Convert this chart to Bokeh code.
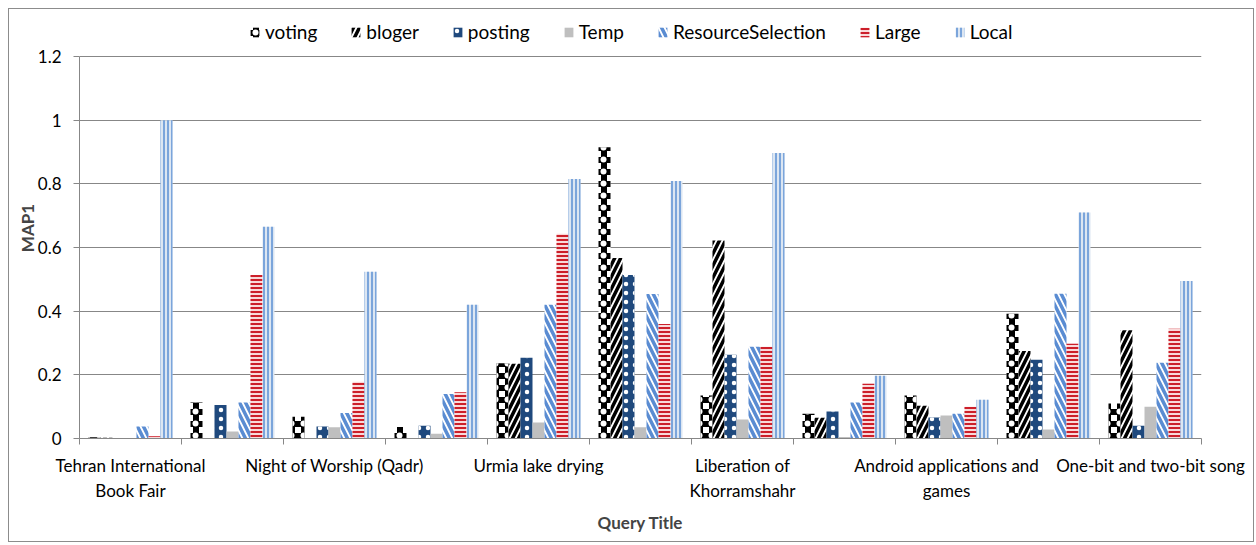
from bokeh.plotting import figure
from bokeh.models import (ColumnDataSource, Range1d, FixedTicker, LinearAxis, Legend, LegendItem,
                          Grid, CustomJSTickFormatter)
from bokeh.transform import dodge
from bokeh.embed import file_html
from bokeh.resources import INLINE

# ---------------- data ----------------
categories = ["Tehran International\nBook Fair", "", "Night of Worship (Qadr)", "",
              "Urmia lake drying", "", "Liberation of\nKhorramshahr", "",
              "Android applications and\ngames", "", "One-bit and two-bit song"]
series_names = ["voting", "bloger", "posting", "Temp", "ResourceSelection", "Large", "Local"]
voting = [0.004, 0.113, 0.068, 0.036, 0.236, 0.915, 0.135, 0.078, 0.135, 0.392, 0.110]
bloger = [0.002, 0.000, 0.000, 0.000, 0.235, 0.567, 0.622, 0.065, 0.103, 0.275, 0.340]
posting = [0.001, 0.105, 0.038, 0.040, 0.254, 0.514, 0.263, 0.085, 0.066, 0.247, 0.040]
temp = [0.000, 0.022, 0.035, 0.015, 0.050, 0.035, 0.060, 0.005, 0.072, 0.028, 0.100]
resource_selection = [0.038, 0.113, 0.080, 0.140, 0.420, 0.454, 0.288, 0.113, 0.078, 0.455, 0.238]
large = [0.007, 0.514, 0.178, 0.145, 0.643, 0.360, 0.288, 0.172, 0.100, 0.298, 0.345]
local = [1.000, 0.665, 0.524, 0.420, 0.815, 0.809, 0.897, 0.197, 0.122, 0.710, 0.495]
y_ticks = [0, 0.2, 0.4, 0.6, 0.8, 1.0, 1.2]
y_tick_labels = ["0", "0.2", "0.4", "0.6", "0.8", "1", "1.2"]
y_title = "MAP1"
x_title = "Query Title"

# ---------------- build ----------------
n = len(categories)
centers = [i + 0.5 for i in range(n)]
bounds = [float(i) for i in range(n + 1)]
src = ColumnDataSource(dict(x=centers, voting=voting, bloger=bloger, posting=posting, temp=temp,
                            rs=resource_selection, large=large, local=local))

FONT = "Lato"
GRAY = "#878787"

# frame spans page y 17..438; value axis 0..1.2 occupies the lower 382 px,
# the strip above holds the legend
FRAME_H = 421
y_top = y_ticks[-1] * FRAME_H / 382

p = figure(width=1246, height=534, output_backend="svg", toolbar_location=None,
           x_range=Range1d(0, n), y_range=Range1d(0, y_top),
           x_axis_type=None, y_axis_type=None)
p.styles = {"margin-left": "8px", "margin-top": "8px", "border": "1px solid #8c8c8c"}
p.min_border_left = 70
p.min_border_right = 54
p.min_border_top = 8
p.min_border_bottom = 105
p.outline_line_color = None
p.background_fill_color = "white"

# y axis
yax = LinearAxis(ticker=FixedTicker(ticks=y_ticks), bounds=(y_ticks[0], y_ticks[-1]),
                 formatter=CustomJSTickFormatter(args=dict(labels=y_tick_labels),
                                                 code="return labels[index]"))
yax.axis_line_color = GRAY
yax.major_tick_line_color = GRAY
yax.major_tick_out = 6
yax.major_tick_in = 0
yax.minor_tick_line_color = None
yax.major_label_standoff = 12
yax.major_label_text_font = FONT
yax.major_label_text_font_size = "17px"
yax.major_label_text_color = "black"
yax.axis_label = y_title
yax.axis_label_text_font = FONT
yax.axis_label_text_font_size = "17px"
yax.axis_label_text_font_style = "bold"
yax.axis_label_standoff = -3
p.add_layout(yax, "left")
p.add_layout(Grid(dimension=1, ticker=yax.ticker, grid_line_color=GRAY, grid_line_width=1))

# x axis: tick marks at category boundaries
xax1 = LinearAxis(ticker=FixedTicker(ticks=bounds),
                  formatter=CustomJSTickFormatter(code="return ''"))
xax1.axis_line_color = GRAY
xax1.major_tick_line_color = GRAY
xax1.major_tick_out = 6
xax1.major_tick_in = 0
xax1.minor_tick_line_color = None
xax1.major_label_standoff = 0
xax1.major_label_text_font_size = "1px"
p.add_layout(xax1, "below")

# x axis: category labels at centres
xax2 = LinearAxis(ticker=FixedTicker(ticks=centers),
                  formatter=CustomJSTickFormatter(args=dict(labels=categories),
                                                  code="return labels[index]"))
xax2.axis_line_color = None
xax2.major_tick_line_color = None
xax2.minor_tick_line_color = None
xax2.major_tick_out = 0
xax2.major_tick_in = 0
xax2.major_label_standoff = 10
xax2.major_label_text_font = FONT
xax2.major_label_text_font_size = "17px"
xax2.major_label_text_color = "black"
xax2.axis_label = x_title
xax2.axis_label_text_font = FONT
xax2.axis_label_text_font_size = "17px"
xax2.axis_label_text_font_style = "bold"
xax2.axis_label_standoff = 8
p.add_layout(xax2, "below")

w = 1.0 / 8.5
# each series: list of layers (the checkerboard of "voting" is a black cross
# lattice with white dots punched into the crossings)
styles = [
    [dict(fill_color="white", hatch_pattern="cross", hatch_color="black",
          hatch_weight=6, hatch_scale=12),
     dict(fill_color=None, hatch_pattern="dot", hatch_color="white", hatch_scale=12)],
    [dict(fill_color="white", hatch_pattern="right_diagonal_line",
          hatch_color="black", hatch_weight=3.5, hatch_scale=12)],
    [dict(fill_color="#1F497D", hatch_pattern="dot",
          hatch_color="white", hatch_weight=1.5, hatch_scale=9)],
    [dict(fill_color="#BFBFBF")],
    [dict(fill_color="white", hatch_pattern="left_diagonal_line",
          hatch_color="#5A8CD2", hatch_weight=3.5, hatch_scale=12)],
    [dict(fill_color="#F9D9D9", hatch_pattern="horizontal_line",
          hatch_color="#CC1F2A", hatch_weight=2, hatch_scale=4)],
    [dict(fill_color="#DCE6F2", hatch_pattern="vertical_line",
          hatch_color="#5B8FD3", hatch_weight=1.5, hatch_scale=4)],
]
fields = ["voting", "bloger", "posting", "temp", "rs", "large", "local"]

items = []
for k, (name, field, layers) in enumerate(zip(series_names, fields, styles)):
    rs = []
    for st in layers:
        r = p.vbar(x=dodge("x", (k - 3) * w, range=p.x_range), top=field, width=w, bottom=0,
                   source=src, line_color=None, **st)
        rs.append(r)
    items.append(LegendItem(label=name, renderers=rs))

legend = Legend(items=items, orientation="horizontal", location=(170, FRAME_H - 26))
legend.label_text_font = FONT
legend.label_text_font_size = "19px"
legend.label_text_color = "black"
legend.glyph_width = 11
legend.glyph_height = 12
legend.label_standoff = 5
legend.spacing = 33
legend.padding = 5
legend.margin = 0
legend.border_line_color = None
legend.background_fill_alpha = 0
p.add_layout(legend, "center")

open("out.html", "w").write(file_html(p, INLINE))
